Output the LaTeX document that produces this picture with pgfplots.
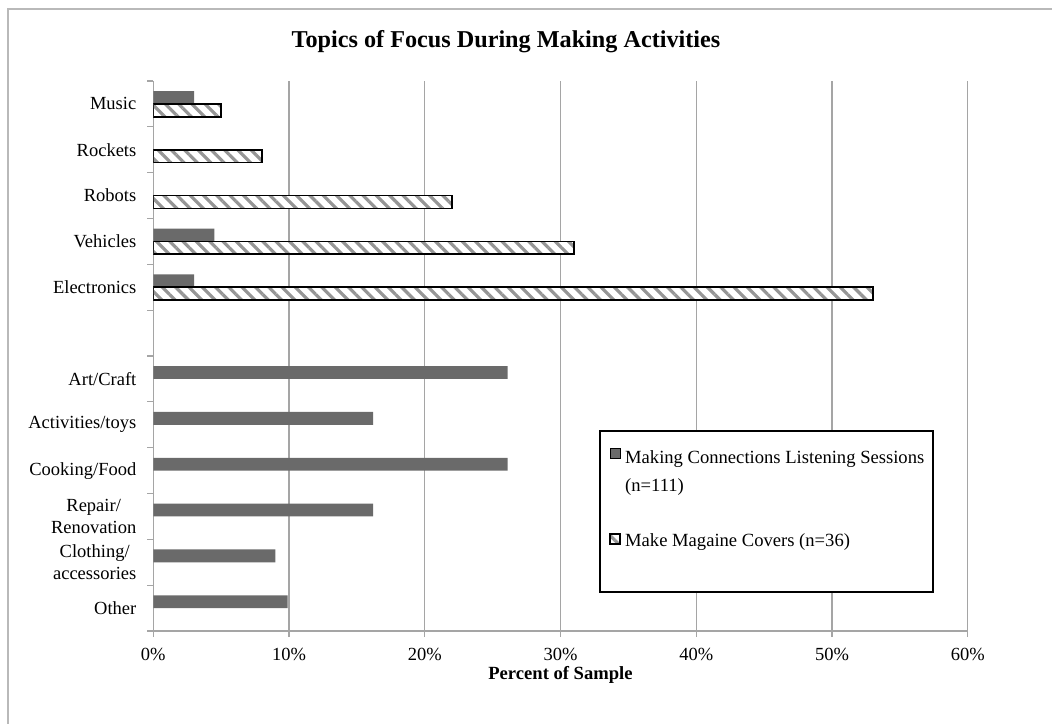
\documentclass[border=0pt]{standalone}
\usepackage{fontspec}
\setmainfont{Liberation Serif}
\usepackage{pgfplots}
\pgfplotsset{compat=1.18}
\usetikzlibrary{patterns.meta}
\definecolor{darkbar}{RGB}{106,106,106}
\definecolor{gridgray}{RGB}{165,165,165}
\definecolor{hatchgray}{RGB}{150,150,150}
\definecolor{bordergray}{RGB}{185,185,185}

\pgfplotstableread{
y x
0 3
3 4.5
4 3
6 26.1
7 16.2
8 26.1
9 16.2
10 9
11 9.9
}\mcls
\pgfplotstableread{
y x
0 5
1 8
2 22
3 31
4 53
}\make

\begin{document}
\begin{tikzpicture}[x=1pt,y=1pt]
\useasboundingbox (0,0) rectangle (526,361.5);
\draw[bordergray, line width=0.6pt] (4,-5) -- (4,357) -- (530,357);
\node[font=\bfseries\fontsize{12.1}{14}\selectfont] at (253,340.5) {Topics of Focus During Making Activities};
\begin{axis}[
  at={(76.65pt,46pt)}, anchor=south west,
  scale only axis, width=407.2pt, height=275pt,
  xmin=0, xmax=60, ymin=-0.5, ymax=11.5, y dir=reverse,
  axis x line*=bottom, axis y line*=left,
  axis line style={gridgray, line width=0.6pt},
  xmajorgrids, grid style={gridgray, line width=0.6pt},
  xtick={0,10,...,60}, xticklabels={0\%,10\%,20\%,30\%,40\%,50\%,60\%},
  ytick={-0.5,0.5,...,11.5}, yticklabels={},
  extra y ticks={0,...,11},
  extra y tick labels={Music,Rockets,Robots,Vehicles,Electronics,{},Art/Craft,Activities/toys,Cooking/Food,{Repair/\\Renovation},{Clothing/\\accessories},Other},
  extra y tick style={major tick length=0pt, grid=none},
  tick align=outside, major tick length=3pt,
  tick style={gridgray, line width=0.6pt},
  xticklabel style={font=\fontsize{9.25}{11}\selectfont, anchor=center, yshift=-8.5pt, inner sep=0pt},
  yticklabel style={font=\fontsize{9.25}{11}\selectfont, anchor=east, align=center, inner sep=0pt, xshift=-8.3pt},
  xlabel={Percent of Sample},
  xlabel style={font=\bfseries\fontsize{9.3}{11}\selectfont, at={(axis description cs:0.5,-0.08)}, anchor=center},
  xbar, bar width=0.28,
  legend image code/.code={\draw[#1] (0pt,-1pt) rectangle (5pt,4pt);},
  legend style={draw=none, fill=none, at={(axis description cs:0.5595,0.3345)}, anchor=north west, inner sep=0pt, row sep=33.5pt, font=\fontsize{9.3}{11.2}\selectfont, legend cell align=left, nodes={inner sep=0pt}, /tikz/every odd column/.append style={column sep=2pt}},
]
\draw[black, line width=0.9pt, fill=white] (axis description cs:0.5485,0.364) rectangle (axis description cs:0.957,0.0715);
\addplot[fill=darkbar, draw=none, bar shift=-0.14] table[x=x,y=y] {\mcls};
\addlegendentry{\begin{tabular}[t]{@{}l@{}}Making Connections Listening Sessions\\[3pt](n=111)\end{tabular}}
\addplot[preaction={fill=white}, pattern={Lines[angle=-45,distance=4.7pt,line width=1.6pt]}, pattern color=hatchgray, draw=black, line width=0.9pt, bar shift=0.14] table[x=x,y=y] {\make};
\addlegendentry{Make Magaine Covers (n=36)}
\end{axis}
\end{tikzpicture}
\end{document}
